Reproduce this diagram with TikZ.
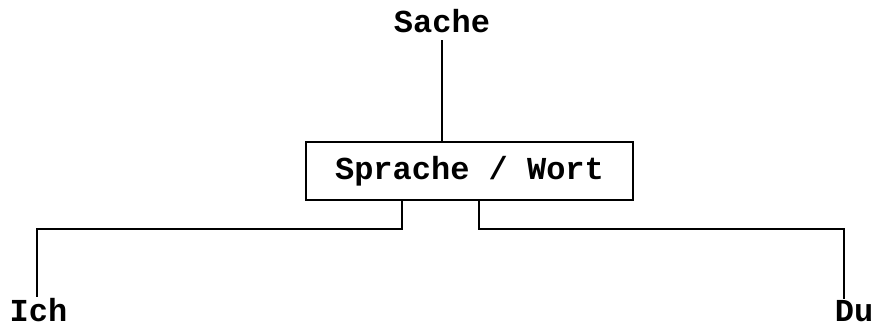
\documentclass[tikz,border=0pt]{standalone}
\usepackage{fontspec}
\newfontfamily\schemefont{Liberation Mono}

\begin{document}
\begin{tikzpicture}[x=1pt,y=-1pt]
	\tikzstyle{every node}+=[inner sep=0pt, font=\schemefont\bfseries\fontsize{32}{38}\selectfont]
	\tikzstyle{every path}+=[line width=1.6pt]
	\useasboundingbox (0,0) rectangle (874,327);
	\node [anchor=base] (sache) at (442,32) {Sache};
	\node [draw, minimum width=327pt, minimum height=58pt] (wort) at (469.5,171) {Sprache / Wort};
	\node [anchor=base] (ich) at (38.5,321) {Ich};
	\node [anchor=base] (du) at (854,321) {Du};
	\coordinate (ichbend) at (402,229);
	\coordinate (ichknee) at (37,229);
	\coordinate (dubend) at (479,229);
	\coordinate (duknee) at (844,229);
	\draw [shorten <=7pt] (sache.south) -- (sache.south |- wort.north);
	\draw (wort.south -| ichbend) -- (ichbend) -- (ichknee) -- (ichknee |- ich.north);
	\draw (wort.south -| dubend) -- (dubend) -- (duknee) -- (duknee |- du.north);
\end{tikzpicture}
\end{document}
